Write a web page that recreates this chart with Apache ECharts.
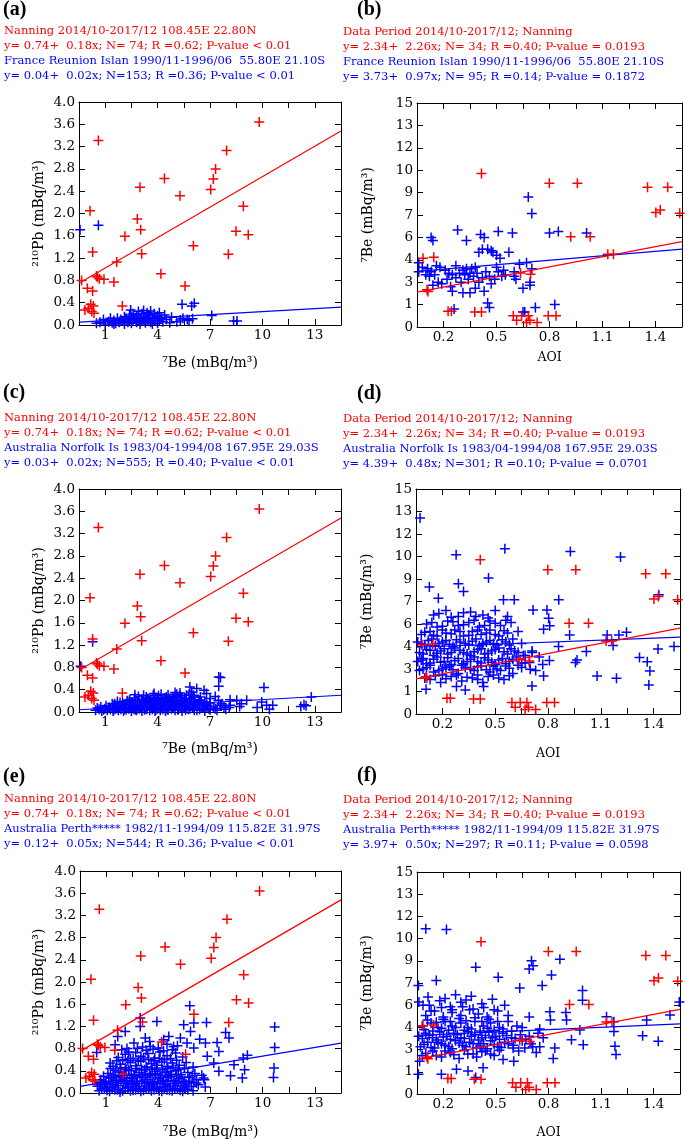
<!DOCTYPE html>
<html><head><meta charset="utf-8">
<script src="https://cdn.jsdelivr.net/npm/echarts@6/dist/echarts.min.js"></script>
<style>html,body{margin:0;padding:0;background:#fff}#c{width:685px;height:1140px}</style>
</head><body><div id="c"></div>
<script>
// ---------- tick labels ----------
const beTickLabels = ['', '1', '', '4', '', '7', '', '10', '', '13', ''];
const pbTickLabels = ['0.0','0.4','0.8','1.2','1.6','2.0','2.4','2.8','3.2','3.6','4.0'];
const aoiTickLabels = ['', '0.2', '', '0.5', '', '0.8', '', '1.1', '', '1.4', ''];
const be7TickLabels = ['0','1','3','4','6','7','9','10','12','13','15'];

// ---------- header texts ----------
const headA = ['Nanning 2014/10-2017/12 108.45E 22.80N','y= 0.74+  0.18x; N= 74; R =0.62; P-value < 0.01','France Reunion Islan 1990/11-1996/06  55.80E 21.10S','y= 0.04+  0.02x; N=153; R =0.36; P-value < 0.01'];
const headB = ['Data Period 2014/10-2017/12; Nanning','y= 2.34+  2.26x; N= 34; R =0.40; P-value = 0.0193','France Reunion Islan 1990/11-1996/06  55.80E 21.10S','y= 3.73+  0.97x; N= 95; R =0.14; P-value = 0.1872'];
const headC = ['Nanning 2014/10-2017/12 108.45E 22.80N','y= 0.74+  0.18x; N= 74; R =0.62; P-value < 0.01','Australia Norfolk Is 1983/04-1994/08 167.95E 29.03S','y= 0.03+  0.02x; N=555; R =0.40; P-value < 0.01'];
const headD = ['Data Period 2014/10-2017/12; Nanning','y= 2.34+  2.26x; N= 34; R =0.40; P-value = 0.0193','Australia Norfolk Is 1983/04-1994/08 167.95E 29.03S','y= 4.39+  0.48x; N=301; R =0.10; P-value = 0.0701'];
const headE = ['Nanning 2014/10-2017/12 108.45E 22.80N','y= 0.74+  0.18x; N= 74; R =0.62; P-value < 0.01','Australia Perth***** 1982/11-1994/09 115.82E 31.97S','y= 0.12+  0.05x; N=544; R =0.36; P-value < 0.01'];
const headF = ['Data Period 2014/10-2017/12; Nanning','y= 2.34+  2.26x; N= 34; R =0.40; P-value = 0.0193','Australia Perth***** 1982/11-1994/09 115.82E 31.97S','y= 3.97+  0.50x; N=297; R =0.11; P-value = 0.0598'];
const panelLabels = ['(a)','(b)','(c)','(d)','(e)','(f)'];

// ---------- Nanning data (red) ----------
const redPb = [[10.32,3.64],[1.11,3.31],[8.45,3.13],[7.82,2.80],[7.69,2.62],[7.54,2.43],[4.89,2.63],[3.49,2.47],[5.78,2.32],[0.63,2.05],[3.34,1.90],[9.41,2.13],[3.53,1.71],[2.63,1.59],[8.99,1.68],[9.69,1.62],[0.78,1.31],[6.55,1.42],[3.59,1.28],[8.55,1.27],[2.16,1.13],[4.69,0.92],[1.05,0.86],[1.16,0.83],[1.43,0.82],[2.00,0.77],[0.48,0.66],[0.78,0.61],[6.07,0.70],[2.48,0.34],[0.67,0.37],[0.82,0.34],[0.34,0.27],[0.73,0.24],[0.86,0.21],[0.53,0.30],[0.15,0.80],[1.0,0.88]];
const redAoi = [[0.365,10.28],[0.749,9.62],[0.908,9.62],[1.305,9.35],[1.419,9.35],[1.352,7.66],[1.377,7.83],[1.487,7.61],[0.870,6.05],[0.980,6.05],[1.080,4.87],[1.112,4.87],[0.034,4.61],[0.095,4.67],[0.586,3.61],[0.643,3.54],[0.057,2.49],[0.062,2.38],[0.176,1.05],[0.195,1.05],[0.327,1.00],[0.365,1.00],[0.545,0.76],[0.592,0.76],[0.564,0.45],[0.630,0.76],[0.639,0.45],[0.743,0.76],[0.787,0.76],[0.620,0.30],[0.680,0.30]];
const redLinePb = [[0,0.75],[15,3.48]];
const redLineAoi = [[0,2.34],[1.5,5.72]];

// ---------- station data (blue) ----------
const blueA = [[0.06,1.71],[1.11,1.79],[2.96,0.27],[5.9,0.37],[6.45,0.34],[6.6,0.39],[7.6,0.17],[8.85,0.07],[9.05,0.07],[5.95,0.12],[6.2,0.10],[6.5,0.11],[6.3,0.08],
[1.0,0.03],[1.2,0.05],[1.5,0.02],[1.7,0.06],[1.9,0.04],[2.0,0.08],[2.1,0.03],[2.3,0.05],[2.4,0.1],[2.5,0.07],[2.6,0.02],[2.7,0.12],[2.8,0.05],[2.9,0.09],[3.0,0.14],[3.0,0.03],[3.1,0.07],[3.2,0.11],[3.3,0.05],[3.3,0.17],[3.4,0.09],[3.5,0.13],[3.5,0.02],[3.6,0.2],[3.6,0.07],[3.7,0.11],[3.8,0.15],[3.8,0.04],[3.9,0.22],[3.9,0.09],[4.0,0.12],[4.0,0.18],[4.1,0.05],[4.1,0.25],[4.2,0.14],[4.3,0.08],[4.3,0.2],[4.4,0.11],[4.5,0.16],[4.5,0.03],[4.6,0.09],[4.7,0.13],[4.8,0.06],[4.9,0.18],[5.0,0.1],[5.2,0.04],[5.3,0.14],[2.2,0.12],[2.6,0.15],[3.1,0.2],[3.4,0.24],[4.6,0.22],[1.4,0.1],[1.8,0.12],[2.9,0.18],[3.7,0.26],[4.2,0.02],[2.0,0.02],[5.6,0.06],[5.8,0.09]];
const blueLineA = [[0,0.05],[15,0.32]];

const blueB = [[0.01,4.3],[0.01,3.7],[0.03,4.0],[0.05,3.5],[0.06,3.9],[0.07,3.4],[0.08,3.7],[0.09,2.8],[0.10,3.5],[0.11,4.1],[0.12,3.0],[0.08,6.0],[0.09,5.8],[0.13,4.0],[0.14,2.9],
[0.16,3.8],[0.17,3.2],[0.18,3.6],[0.19,2.7],[0.2,3.5],[0.2,2.4],[0.21,1.2],[0.22,4.1],[0.22,3.3],[0.23,6.5],[0.24,3.6],[0.25,3.0],[0.26,3.8],[0.26,2.3],[0.27,3.5],[0.28,3.9],[0.28,5.8],[0.29,3.2],[0.3,3.6],[0.3,2.3],
[0.31,3.9],[0.32,3.4],[0.33,2.6],[0.33,4.0],[0.34,3.6],[0.35,5.0],[0.35,3.0],[0.36,6.2],[0.37,5.2],[0.37,3.3],[0.38,2.4],[0.38,6.0],[0.39,3.7],[0.40,5.2],[0.40,1.6],[0.41,3.4],[0.41,1.3],[0.42,5.1],[0.42,2.9],[0.43,5.0],[0.44,3.2],[0.45,4.8],[0.45,4.0],[0.46,3.7],[0.46,6.4],[0.47,4.6],[0.48,3.4],[0.49,3.8],[0.5,3.5],
[0.52,5.0],[0.54,6.3],[0.55,3.4],[0.55,3.7],[0.56,3.2],[0.58,4.2],[0.6,2.6],[0.6,1.0],[0.61,1.0],[0.62,4.3],[0.63,8.7],[0.64,2.8],[0.64,3.0],[0.65,7.6],[0.65,3.9],[0.67,1.3],
[0.75,6.3],[0.78,1.5],[0.8,6.4],[0.96,6.3]];
const blueLineB = [[0,3.72],[1.5,5.21]];

const blueC = [[0.95,0.03],[1.15,0.05],[1.3,0.02],[1.48,0.06],[1.62,0.03],[1.8,0.05],[1.95,0.02],[2.1,0.06],[2.25,0.03],[2.4,0.05],[2.55,0.02],[2.7,0.04],[2.85,0.06],[3.0,0.02],[3.15,0.05],[3.3,0.03],[3.45,0.06],[3.6,0.02],[3.75,0.04],[3.9,0.06],[4.05,0.03],[4.2,0.05],[4.35,0.02],[4.5,0.06],[4.65,0.03],[4.8,0.05],[4.95,0.02],[5.1,0.04],[5.3,0.06],[5.5,0.03],[5.7,0.05],[5.9,0.02],[6.1,0.04],[6.35,0.06],[6.6,0.03],[6.9,0.05],[7.2,0.02],[7.5,0.04],[7.9,0.03],[8.4,0.05],
[1.25,0.09],[1.55,0.11],[1.75,0.08],[2.0,0.12],[2.2,0.09],[2.45,0.11],[2.65,0.08],[2.9,0.13],[3.1,0.09],[3.35,0.12],[3.55,0.08],[3.8,0.11],[4.0,0.13],[4.25,0.09],[4.45,0.12],[4.7,0.08],[4.9,0.11],[5.15,0.13],[5.4,0.09],[5.6,0.12],[5.85,0.08],[6.05,0.11],[6.3,0.13],[6.55,0.09],[6.8,0.12],[7.05,0.08],[7.35,0.11],[7.7,0.09],[8.1,0.12],[8.6,0.08],[9.2,0.1],
[2.05,0.15],[2.35,0.17],[2.6,0.14],[2.8,0.19],[3.05,0.16],[3.25,0.2],[3.5,0.15],[3.7,0.18],[3.95,0.2],[4.15,0.16],[4.4,0.19],[4.6,0.15],[4.85,0.18],[5.05,0.2],[5.25,0.16],[5.5,0.19],[5.75,0.15],[5.95,0.18],[6.2,0.16],[6.45,0.19],[6.7,0.15],[7.0,0.17],[7.3,0.14],
[2.9,0.22],[3.2,0.25],[3.6,0.23],[3.85,0.27],[4.1,0.22],[4.35,0.26],[4.55,0.29],[4.75,0.23],[5.0,0.27],[5.2,0.24],[5.45,0.28],[5.65,0.22],[5.9,0.26],[6.15,0.3],[6.4,0.24],[6.6,0.27],[6.85,0.22],
[1.05,0.07],[1.4,0.04],[1.7,0.08],[2.0,0.04],[2.3,0.08],[2.6,0.05],[2.95,0.08],[3.25,0.04],[3.55,0.09],[3.85,0.05],[4.15,0.08],[4.4,0.04],[4.75,0.08],[5.05,0.05],[5.35,0.09],[5.65,0.04],[5.95,0.08],[6.25,0.05],[6.5,0.08],[6.75,0.03],[7.1,0.07],[7.45,0.06],[7.8,0.06],[8.3,0.09],
[1.9,0.15],[2.2,0.19],[2.5,0.16],[2.75,0.2],[3.0,0.18],[3.35,0.16],[3.6,0.2],[3.85,0.16],[4.05,0.21],[4.3,0.15],[4.5,0.21],[4.75,0.17],[4.95,0.22],[5.2,0.18],[5.4,0.22],[5.65,0.17],[5.85,0.21],[6.1,0.19],[6.35,0.22],[6.6,0.18],[6.9,0.2],[7.2,0.18],[7.5,0.16],
[3.4,0.28],[3.7,0.3],[3.95,0.24],[4.25,0.3],[4.5,0.24],[4.7,0.32],[4.9,0.25],[5.1,0.31],[5.35,0.26],[5.6,0.32],[5.8,0.29],[6.05,0.24],[6.3,0.32],[6.55,0.3],[6.95,0.27],
[0.1,0.82],[0.78,1.26],[8.0,0.63],[8.1,0.62],[8.0,0.46],[10.59,0.44],[10.46,0.18],[10.74,0.12],[11.09,0.12],[12.88,0.13],[13.0,0.11],[13.3,0.27],[9.6,0.21],[9.03,0.21],[8.65,0.12],[7.16,0.39],[6.74,0.42],[6.35,0.45],[6.45,0.36],[7.5,0.24],[7.98,0.21],[8.17,0.15],[8.65,0.22],[5.78,0.34],[5.5,0.35],[4.3,0.33],[3.2,0.31],[7.3,0.33],[7.8,0.28],[9.3,0.15],[10.2,0.08],[10.9,0.05],[12.7,0.1]];
const blueLineC = [[0,0.04],[15,0.30]];

const blueD = [[0.023,13.06],[0.228,10.62],[0.505,11.02],[0.877,10.84],[1.162,10.46],[0.412,9.06],[0.241,8.68],[0.27,8.17],[0.076,8.46],[0.127,7.72],[0.497,7.61],[0.558,7.61],[0.665,6.94],[0.811,7.61],[0.744,6.94],[0.754,6.39],[0.76,5.88],[0.725,5.65],[0.873,5.27],[1.086,5.27],[1.153,5.27],[1.196,5.45],[1.12,4.56],[0.81,4.5],[0.968,4.16],[0.915,3.6],[0.906,3.43],[0.758,3.56],[0.649,2.98],[0.645,3.43],[0.725,2.54],[0.659,1.87],[1.029,2.54],[1.139,2.38],[1.27,3.76],[1.314,3.49],[1.329,2.87],[1.323,1.94],[1.375,4.34],[1.38,7.95],[1.466,4.5],[0.057,1.65],[0.384,1.83],[0.23,1.83],[0.28,1.6],
[0.08,2.3],[0.14,2.1],[0.2,2.5],[0.26,2.2],[0.32,2.4],[0.38,2.1],[0.44,2.6],[0.5,2.3],
[0.02,2.9],[0.06,3.1],[0.1,2.8],[0.15,3.0],[0.19,3.2],[0.24,2.7],[0.28,3.1],[0.33,2.9],[0.37,3.2],[0.42,2.8],[0.46,3.0],[0.51,3.2],[0.55,2.7],[0.6,3.1],
[0.01,3.5],[0.04,3.7],[0.08,3.4],[0.12,3.8],[0.16,3.5],[0.2,3.3],[0.24,3.7],[0.29,3.5],[0.33,3.8],[0.37,3.4],[0.41,3.6],[0.45,3.3],[0.49,3.7],[0.53,3.5],[0.57,3.8],[0.62,3.4],
[0.02,4.1],[0.06,4.3],[0.1,3.9],[0.14,4.2],[0.18,4.0],[0.22,4.4],[0.27,4.1],[0.31,3.9],[0.35,4.3],[0.39,4.0],[0.43,4.2],[0.47,4.4],[0.52,4.0],[0.56,4.2],[0.61,3.9],[0.66,4.1],
[0.01,4.8],[0.05,4.6],[0.09,5.0],[0.13,4.7],[0.17,4.9],[0.21,4.5],[0.25,4.8],[0.3,4.6],[0.34,5.0],[0.38,4.7],[0.42,4.9],[0.46,4.6],[0.51,4.8],[0.55,5.0],[0.6,4.7],
[0.03,5.3],[0.08,5.5],[0.12,5.2],[0.17,5.4],[0.22,5.6],[0.27,5.2],[0.32,5.5],[0.37,5.3],[0.42,5.6],[0.47,5.2],[0.52,5.4],[0.58,5.5],
[0.06,6.0],[0.12,5.8],[0.18,6.2],[0.24,5.9],[0.3,6.1],[0.36,5.8],[0.42,6.2],[0.48,5.9],[0.54,6.1],
[0.1,6.6],[0.17,6.9],[0.24,6.5],[0.31,6.8],[0.38,6.6],[0.45,6.9],[0.52,6.5],
[0.58,4.1],[0.62,3.9],[0.66,4.2],[0.7,3.8],[0.6,3.4],[0.68,2.9],[0.72,3.3],[0.15,2.6],[0.35,2.6],[0.05,2.4],
[0.11,2.55],[0.17,2.35],[0.23,2.6],[0.29,2.45],[0.35,2.3],[0.41,2.5],[0.47,2.4],[0.53,2.55],
[0.04,3.0],[0.08,3.25],[0.13,2.9],[0.17,3.1],[0.21,2.95],[0.26,3.25],[0.31,3.0],[0.35,3.15],[0.4,2.95],[0.44,3.2],[0.48,2.9],[0.53,3.05],[0.58,3.25],
[0.03,3.6],[0.06,3.35],[0.1,3.65],[0.14,3.45],[0.18,3.75],[0.22,3.55],[0.27,3.35],[0.31,3.65],[0.35,3.5],[0.39,3.75],[0.43,3.45],[0.47,3.6],[0.51,3.35],[0.55,3.65],
[0.04,4.0],[0.08,4.25],[0.12,4.05],[0.16,4.35],[0.2,4.1],[0.25,4.25],[0.29,4.0],[0.33,4.15],[0.37,4.35],[0.41,4.05],[0.45,4.3],[0.5,4.15],[0.54,4.35],
[0.03,4.7],[0.07,4.9],[0.11,4.55],[0.15,4.8],[0.19,4.65],[0.23,4.95],[0.28,4.7],[0.32,4.85],[0.36,4.55],[0.4,4.8],[0.44,4.7],[0.49,4.95],[0.53,4.6],
[0.05,5.45],[0.1,5.25],[0.15,5.6],[0.2,5.35],[0.25,5.5],[0.3,5.25],[0.35,5.6],[0.4,5.4],[0.45,5.3],[0.5,5.55],
[0.09,6.1],[0.15,5.85],[0.21,6.15],[0.27,5.95],[0.33,6.25],[0.39,5.9],[0.45,6.05],[0.51,6.25],
[0.13,6.7],[0.2,6.45],[0.27,6.75],[0.34,6.5],[0.41,6.4]];
const blueLineD = [[0,4.45],[1.5,5.12]];

const blueE = [[6.31,1.57],[3.46,1.35],[4.42,1.29],[7.27,1.27],[5.96,1.23],[6.54,1.26],[6.35,1.11],[8.37,1.09],[11.19,1.19],[11.19,0.82],[11.15,0.45],[11.12,0.28],[8.56,0.99],[9.62,0.68],[9.38,0.63],[9.46,0.42],[8.85,0.51],[8.65,0.31],[9.33,0.27],[7.88,0.91],[7.98,0.75],[7.21,0.9],[6.88,0.97],[6.54,0.81],[6.15,0.90],[0.96,0.73],[1.19,0.15],[1.73,0.54],[2.02,0.87],[2.17,1.02],[2.6,1.11],[3.46,1.2],[3.75,0.99],[4.04,0.84],[4.81,0.96],[5.1,1.02],[5.38,0.84],[5.77,0.99],[7.31,0.66],[7.69,0.54],[7.98,0.39],[7.15,0.24],[6.69,0.18],
[1.1,0.04],[1.4,0.07],[1.7,0.03],[2.0,0.06],[2.3,0.02],[2.6,0.08],[2.9,0.04],[3.2,0.06],[3.5,0.03],[3.8,0.07],[4.1,0.04],[4.4,0.08],[4.7,0.03],[5.0,0.06],[5.3,0.04],[5.6,0.07],[5.9,0.03],[6.2,0.06],[6.5,0.04],
[1.0,0.12],[1.3,0.16],[1.6,0.11],[1.9,0.15],[2.2,0.13],[2.5,0.17],[2.8,0.11],[3.1,0.15],[3.4,0.12],[3.7,0.17],[4.0,0.13],[4.3,0.16],[4.6,0.11],[4.9,0.15],[5.2,0.12],[5.5,0.17],[5.8,0.13],[6.1,0.16],[6.4,0.12],[6.8,0.15],[7.2,0.11],
[1.2,0.24],[1.5,0.21],[1.8,0.27],[2.1,0.23],[2.4,0.28],[2.7,0.22],[3.0,0.26],[3.3,0.21],[3.6,0.28],[3.9,0.24],[4.2,0.2],[4.5,0.27],[4.8,0.23],[5.1,0.29],[5.4,0.22],[5.7,0.26],[6.0,0.21],[6.3,0.28],[6.7,0.24],[7.1,0.27],
[1.6,0.35],[1.9,0.32],[2.2,0.38],[2.5,0.34],[2.8,0.41],[3.1,0.33],[3.4,0.37],[3.7,0.42],[4.0,0.35],[4.3,0.39],[4.6,0.32],[4.9,0.38],[5.2,0.34],[5.5,0.4],[5.8,0.33],[6.2,0.37],[6.6,0.35],[7.0,0.32],
[1.9,0.48],[2.3,0.52],[2.6,0.46],[2.9,0.55],[3.2,0.49],[3.5,0.57],[3.8,0.47],[4.1,0.53],[4.4,0.5],[4.7,0.56],[5.0,0.48],[5.3,0.54],[5.7,0.5],[6.1,0.55],[6.5,0.47],
[2.2,0.64],[2.6,0.7],[2.9,0.62],[3.2,0.73],[3.5,0.66],[3.9,0.71],[4.3,0.63],[4.6,0.74],[5.0,0.67],[5.5,0.72],[5.9,0.65],
[2.7,0.8],[3.1,0.9],[3.6,0.83],[4.0,0.93],[4.5,0.81],[5.0,0.88],[5.6,0.85],
[1.25,0.07],[1.55,0.05],[1.85,0.09],[2.15,0.06],[2.45,0.04],[2.75,0.09],[3.05,0.05],[3.35,0.08],[3.65,0.05],[3.95,0.09],[4.25,0.06],[4.55,0.04],[4.85,0.09],[5.15,0.05],[5.45,0.08],[5.75,0.05],[6.05,0.09],
[1.15,0.19],[1.45,0.17],[1.75,0.2],[2.05,0.18],[2.35,0.21],[2.65,0.18],[2.95,0.2],[3.25,0.17],[3.55,0.21],[3.85,0.19],[4.15,0.17],[4.45,0.2],[4.75,0.18],[5.05,0.21],[5.35,0.17],[5.65,0.2],[5.95,0.18],[6.25,0.21],[6.55,0.19],
[1.35,0.3],[1.65,0.28],[1.95,0.31],[2.25,0.29],[2.55,0.32],[2.85,0.28],[3.15,0.31],[3.45,0.29],[3.75,0.33],[4.05,0.29],[4.35,0.32],[4.65,0.28],[4.95,0.31],[5.25,0.3],[5.55,0.33],[5.85,0.29],[6.45,0.31],
[1.75,0.44],[2.05,0.41],[2.35,0.45],[2.65,0.43],[2.95,0.4],[3.25,0.44],[3.55,0.42],[3.85,0.46],[4.15,0.43],[4.45,0.45],[4.75,0.42],[5.05,0.44],[5.35,0.46],[5.65,0.43],[6.0,0.45],
[2.1,0.58],[2.45,0.6],[2.75,0.58],[3.05,0.62],[3.35,0.59],[3.65,0.63],[3.95,0.6],[4.25,0.58],[4.55,0.62],[4.85,0.6],[5.2,0.62],[5.55,0.59],
[2.4,0.78],[2.8,0.74],[3.3,0.8],[3.8,0.77],[4.2,0.79],[4.8,0.76],[5.3,0.78]];
const blueLineE = [[0,0.12],[15,0.9]];

const blueF = [[0.05,11.16],[0.168,11.11],[0.335,8.56],[0.11,7.67],[0.463,7.89],[0.653,9.0],[0.662,8.67],[0.64,8.44],[0.815,9.11],[0.767,8.04],[0.714,7.33],[0.586,7.16],[0.944,7.0],[0.944,6.33],[0.758,5.56],[0.761,5.0],[0.849,5.51],[0.853,5.0],[0.777,2.4],[0.786,3.11],[0.881,3.67],[0.948,3.33],[0.929,4.33],[1.081,5.22],[1.123,4.89],[1.123,4.22],[1.129,3.22],[1.135,2.67],[1.287,3.93],[1.31,5.0],[1.376,3.56],[1.443,5.33],[1.496,6.22],[0.491,2.33],[0.552,2.22],[0.548,3.11],[0.615,3.11],[0.008,1.33],[0.015,2.22],[0.008,7.33],[0.011,6.22],[0.034,6.0],[0.063,6.56],[0.139,1.33],[0.225,1.67],[0.291,1.56],[0.335,1.11],[0.377,1.78],
[0.03,2.6],[0.09,2.9],[0.14,2.5],[0.19,2.8],[0.24,2.4],[0.29,2.7],[0.34,2.5],[0.39,2.9],[0.44,2.6],
[0.02,3.2],[0.06,3.5],[0.1,3.1],[0.14,3.4],[0.18,3.2],[0.22,3.6],[0.26,3.3],[0.3,3.5],[0.34,3.1],[0.38,3.4],[0.42,3.6],[0.46,3.2],[0.5,3.5],[0.55,3.3],[0.6,3.6],[0.65,3.4],[0.7,3.2],
[0.01,3.9],[0.05,4.1],[0.09,3.8],[0.13,4.2],[0.17,3.9],[0.21,4.1],[0.25,3.8],[0.29,4.2],[0.33,4.0],[0.37,3.8],[0.41,4.2],[0.45,3.9],[0.49,4.1],[0.54,3.8],[0.59,4.0],[0.64,3.9],[0.69,4.1],
[0.03,4.6],[0.08,4.8],[0.12,4.5],[0.16,4.9],[0.2,4.6],[0.25,4.8],[0.29,4.5],[0.33,4.9],[0.38,4.6],[0.42,4.8],[0.47,4.5],[0.52,4.9],[0.57,4.6],
[0.05,5.3],[0.1,5.6],[0.15,5.2],[0.2,5.5],[0.25,5.3],[0.3,5.7],[0.35,5.4],[0.4,5.2],[0.46,5.6],[0.52,5.3],
[0.07,6.0],[0.13,6.3],[0.19,5.9],[0.25,6.2],[0.31,6.6],[0.37,6.1],[0.43,6.4],[0.5,6.0],
[0.05,2.75],[0.11,2.6],[0.16,2.9],[0.21,2.65],[0.27,2.95],[0.32,2.7],[0.37,2.85],[0.42,2.7],[0.47,2.95],
[0.04,3.35],[0.08,3.15],[0.12,3.5],[0.16,3.3],[0.2,3.05],[0.24,3.45],[0.28,3.2],[0.32,3.4],[0.36,3.25],[0.4,3.05],[0.44,3.35],[0.48,3.15],[0.52,3.4],
[0.03,3.75],[0.07,3.95],[0.11,3.65],[0.15,3.85],[0.19,3.7],[0.23,4.0],[0.27,3.75],[0.31,3.9],[0.35,3.65],[0.39,3.95],[0.43,3.8],[0.47,3.7],[0.51,3.95],[0.56,3.75],
[0.04,4.35],[0.09,4.25],[0.14,4.45],[0.18,4.3],[0.22,4.5],[0.27,4.3],[0.31,4.4],[0.36,4.25],[0.4,4.45],[0.44,4.3],[0.49,4.4],[0.54,4.25],
[0.06,5.0],[0.11,4.85],[0.15,5.05],[0.19,4.9],[0.24,5.1],[0.28,4.95],[0.33,5.15],[0.37,4.9],[0.41,5.05],[0.46,4.9],
[0.08,5.6],[0.14,5.85],[0.2,5.7],[0.26,5.9],[0.32,5.75],[0.38,5.85],[0.44,5.7],
[0.16,6.45],[0.22,6.7],[0.28,6.35],
[0.58,2.9],[0.62,3.7],[0.66,3.2],[0.7,4.4],[0.72,3.8],[0.6,4.5],[0.64,5.2],[0.68,2.8]];
const blueLineF = [[0,3.96],[1.5,4.74]];

// ---------- layout ----------
const RED = '#ff0000', BLUE = '#0000ff';
const PLUS = 'path://M4.25,0H5.75V4.25H10V5.75H5.75V10H4.25V5.75H0V4.25H4.25Z';
const panels = [
  {g:{left:79,top:102,width:262,height:223}, kind:'pb', red:redPb, redLine:redLinePb, blue:blueA, blueLine:blueLineA, head:headA, hx:4, hy:31.5, lab:[3,10], xGap:31, yGap:33},
  {g:{left:417,top:103,width:265,height:224}, kind:'aoi', red:redAoi, redLine:redLineAoi, blue:blueB, blueLine:blueLineB, head:headB, hx:343, hy:32, lab:[357,10], xGap:24, yGap:42},
  {g:{left:79,top:489,width:262,height:223}, kind:'pb', red:redPb, redLine:redLinePb, blue:blueC, blueLine:blueLineC, head:headC, hx:4, hy:418.5, lab:[3,392.5], xGap:30, yGap:33},
  {g:{left:416,top:489,width:264,height:225}, kind:'aoi', red:redAoi, redLine:redLineAoi, blue:blueD, blueLine:blueLineD, head:headD, hx:343, hy:419, lab:[357,393.5], xGap:33, yGap:42},
  {g:{left:80,top:871,width:261,height:222}, kind:'pb', red:redPb, redLine:redLinePb, blue:blueE, blueLine:blueLineE, head:headE, hx:4, hy:799.5, lab:[3,776.5], xGap:32, yGap:34},
  {g:{left:417,top:872,width:263,height:225}, kind:'aoi', red:redAoi, redLine:redLineAoi, blue:blueF, blueLine:blueLineF, head:headF, hx:343, hy:800, lab:[357,776], xGap:32, yGap:43}
];

const TICKFONT = {fontFamily:'DejaVu Serif', fontSize:13.5, color:'#000'};
const grids = [], xAxes = [], yAxes = [], series = [], graphics = [];
const axisLine = {show:true, onZero:false, lineStyle:{color:'#000', width:1}};
const tickIn = {show:true, inside:true, length:6, lineStyle:{color:'#000', width:1}};

panels.forEach((p, i) => {
  grids.push(Object.assign({containLabel:false}, p.g));
  const isPb = p.kind === 'pb';
  const xCfg = isPb ? {min:0, max:15, interval:1.5, labels:beTickLabels, name:'\u2077Be (mBq/m\u00b3)', nameSize:14}
                    : {min:0, max:1.5, interval:0.15, labels:aoiTickLabels, name:'AOI', nameSize:12.5};
  const yCfg = isPb ? {min:0, max:4, interval:0.4, labels:pbTickLabels, name:'\u00b2\u00b9\u2070Pb (mBq/m\u00b3)'}
                    : {min:0, max:15, interval:1.5, labels:be7TickLabels, name:'\u2077Be (mBq/m\u00b3)'};
  xAxes.push({type:'value', gridIndex:i, position:'bottom', min:xCfg.min, max:xCfg.max, interval:xCfg.interval,
    axisLine, axisTick:tickIn, splitLine:{show:false},
    axisLabel:{show:true, margin:3, showMinLabel:true, showMaxLabel:true, ...TICKFONT,
      formatter:(v)=>xCfg.labels[Math.round(v/xCfg.interval)] || ''},
    name:xCfg.name, nameLocation:'middle', nameGap:p.xGap,
    nameTextStyle:{fontFamily:'DejaVu Serif', fontSize:xCfg.nameSize, color:'#000'}});
  xAxes.push({type:'value', gridIndex:i, position:'top', min:xCfg.min, max:xCfg.max, interval:xCfg.interval,
    axisLine, axisTick:tickIn, axisLabel:{show:false}, splitLine:{show:false}});
  yAxes.push({type:'value', gridIndex:i, position:'left', min:yCfg.min, max:yCfg.max, interval:yCfg.interval,
    axisLine, axisTick:tickIn, splitLine:{show:false},
    axisLabel:{show:true, margin:4, showMinLabel:true, showMaxLabel:true, ...TICKFONT,
      formatter:(v)=>yCfg.labels[Math.round(v/yCfg.interval)] || ''},
    name:yCfg.name, nameLocation:'middle', nameRotate:90, nameGap:p.yGap,
    nameTextStyle:{fontFamily:'DejaVu Serif', fontSize:14, color:'#000'}});
  yAxes.push({type:'value', gridIndex:i, position:'right', min:yCfg.min, max:yCfg.max, interval:yCfg.interval,
    axisLine, axisTick:tickIn, axisLabel:{show:false}, splitLine:{show:false}});

  const xi = 2*i, yi = 2*i;
  series.push({type:'scatter', xAxisIndex:xi, yAxisIndex:yi, data:p.blue, symbol:PLUS, symbolSize:10,
    itemStyle:{color:BLUE, opacity:1}, silent:true, z:2});
  series.push({type:'scatter', xAxisIndex:xi, yAxisIndex:yi, data:p.red, symbol:PLUS, symbolSize:10,
    itemStyle:{color:RED, opacity:1}, silent:true, z:3});
  series.push({type:'line', xAxisIndex:xi, yAxisIndex:yi, data:p.blueLine, symbol:'none',
    lineStyle:{color:BLUE, width:1.2}, silent:true, z:4});
  series.push({type:'line', xAxisIndex:xi, yAxisIndex:yi, data:p.redLine, symbol:'none',
    lineStyle:{color:RED, width:1.2}, silent:true, z:5});

  graphics.push({type:'text', x:p.lab[0], y:p.lab[1], style:{text:panelLabels[i], fill:'#000',
    font:'bold 20px "Liberation Serif"', verticalAlign:'middle', align:'left'}});
  p.head.forEach((t, k) => {
    graphics.push({type:'text', x:p.hx, y:p.hy + 15*k, style:{text:t, fill: k < 2 ? RED : BLUE,
      font:'11.5px "DejaVu Serif"', verticalAlign:'middle', align:'left'}});
  });
});

const chart = echarts.init(document.getElementById('c'), null, {renderer:'canvas', width:685, height:1140});
chart.setOption({
  animation:false, backgroundColor:'#fff',
  grid:grids, xAxis:xAxes, yAxis:yAxes, series, graphic:graphics
});
</script></body></html>
